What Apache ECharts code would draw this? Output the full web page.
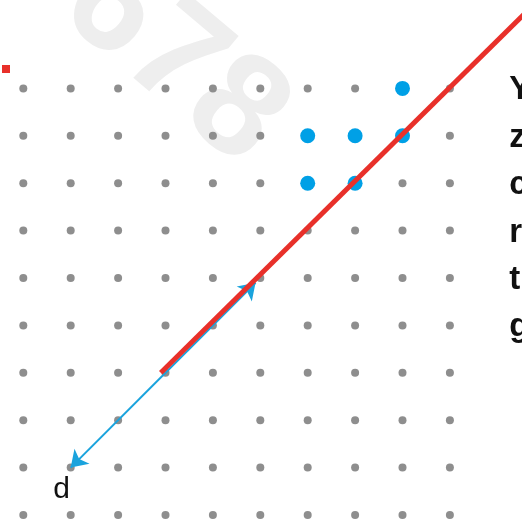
<!DOCTYPE html>
<html>
<head>
<meta charset="utf-8">
<script src="https://cdn.jsdelivr.net/npm/echarts@6/dist/echarts.min.js"></script>
<style>
  html, body { margin: 0; padding: 0; background: #fff; }
  #chart { width: 522px; height: 527px; }
</style>
</head>
<body>
<div id="chart"></div>
<script>
// grid of dots, 10 x 10, indices counted from the bottom left
const gridCols = [0, 1, 2, 3, 4, 5, 6, 7, 8, 9];
const gridRows = [0, 1, 2, 3, 4, 5, 6, 7, 8, 9];
// highlighted (blue) dots
const blueDots = [[8, 9], [6, 8], [7, 8], [8, 8], [6, 7], [7, 7]];
// red line, start and end
const redLine = [[2.9, 3.0], [10.6, 10.6]];
// blue arrows, from -> to
const arrows = [
  [[3, 3], [1, 1]],
  [[3, 3], [4.9, 4.9]]
];
// label under the end of the long arrow
const pointLabels = [{ name: 'd', value: [1, 1] }];
// letters cut off at the right edge
const sideLetters = ['Y', 'z', 'c', 'r', 't', 'g'];
const sideRows = [9, 8, 7, 6, 5, 4];
const sideCol = 10.25;

const grayDots = [];
gridRows.forEach(r => gridCols.forEach(c => grayDots.push([c, r])));

// one unit = 47.4px, dot (0,0) sits at pixel (23.3, 515); grid fills the page
const step = 47.4;
const chart = echarts.init(document.getElementById('chart'));
chart.setOption({
  animation: false,
  backgroundColor: '#fff',
  grid: { left: 0, top: 0, width: 522, height: 527 },
  xAxis: { type: 'value', min: -23.3 / step, max: (522 - 23.3) / step, show: false },
  yAxis: { type: 'value', min: (515 - 527) / step, max: 515 / step, show: false },
  graphic: [
    {
      type: 'text', z: -10,
      x: 174, y: 60, rotation: -0.7,
      style: {
        text: '678', fill: '#eeeeee',
        font: 'bold 145px "Liberation Sans", Arial, sans-serif',
        align: 'center', verticalAlign: 'middle'
      }
    },
    {
      type: 'rect', z: 10,
      shape: { x: 2, y: 65, width: 8, height: 8 },
      style: { fill: '#e8302a' }
    }
  ],
  series: [
    {
      type: 'scatter', z: 2, silent: true,
      symbolSize: 8,
      itemStyle: { color: '#8e8e8e', opacity: 1 },
      data: grayDots
    },
    {
      type: 'scatter', z: 3, silent: true,
      symbolSize: 15,
      itemStyle: { color: '#00a0e6', opacity: 1 },
      data: blueDots
    },
    {
      type: 'lines', z: 4, coordinateSystem: 'cartesian2d', silent: true,
      symbol: ['none', 'arrow'], symbolSize: 16,
      lineStyle: { color: '#1aa3dd', width: 2, opacity: 1 },
      data: arrows.map(a => ({ coords: a }))
    },
    {
      type: 'line', z: 5, silent: true,
      symbol: 'none',
      lineStyle: { color: '#e8302a', width: 5, cap: 'butt' },
      data: redLine
    },
    {
      type: 'scatter', z: 6, silent: true,
      symbolSize: 0,
      itemStyle: { opacity: 1 },
      data: pointLabels,
      label: {
        show: true, formatter: '{b}', position: [0, 0],
        offset: [-9, 22], align: 'center', verticalAlign: 'middle',
        color: '#111', fontSize: 30,
        fontFamily: '"Liberation Sans", Arial, sans-serif'
      }
    },
    {
      type: 'scatter', z: 6, silent: true,
      symbolSize: 0,
      itemStyle: { opacity: 1 },
      data: sideLetters.map((t, i) => ({ name: t, value: [sideCol, sideRows[i]] })),
      label: {
        show: true, formatter: '{b}', position: [0, 0],
        offset: [0, 2], align: 'left', verticalAlign: 'middle',
        color: '#111', fontSize: 33, fontWeight: 'bold',
        fontFamily: '"Liberation Sans", Arial, sans-serif'
      }
    }
  ]
});
</script>
</body>
</html>
